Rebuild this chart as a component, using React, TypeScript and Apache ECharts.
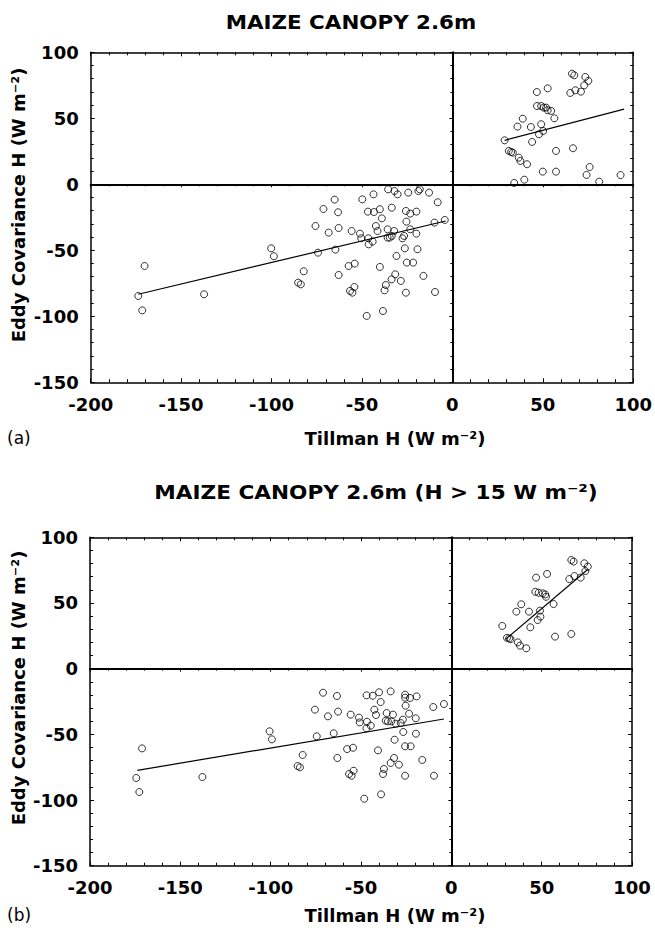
import React, { useEffect, useRef } from "react";
import * as echarts from "echarts";

// Panel (a): all data
const aNeg: [number, number][] = [
  [-173.7, -84.6], [-171.5, -95.5], [-170.2, -61.9], [-137.3, -83.3], [-100.2, -48.5],
  [-98.7, -54.5], [-85.3, -74.5], [-83.8, -75.8], [-82.2, -65.9], [-75.7, -31.6],
  [-74.3, -51.8], [-71.3, -18.7], [-68.4, -36.6], [-65.1, -11.6], [-64.7, -49.5],
  [-63.2, -21.2], [-62.9, -33.1], [-62.9, -68.7], [-57.4, -61.9], [-55.7, -35.4],
  [-56.6, -80.8], [-55.3, -82.1], [-54.2, -77.8], [-54.0, -60.1], [-51.1, -37.4],
  [-50.4, -40.9], [-49.8, -11.4], [-47.4, -99.7], [-46.7, -20.7], [-46.5, -40.9],
  [-46.3, -45.5], [-44.1, -43.4], [-43.6, -7.6], [-43.4, -21.0], [-42.3, -31.6],
  [-41.4, -35.4], [-40.1, -18.9], [-40.1, -62.6], [-39.0, -25.8], [-38.4, -96.0],
  [-37.5, -80.3], [-36.8, -76.3], [-35.8, -34.1], [-35.5, -3.8], [-35.8, -40.4],
  [-34.6, -40.4], [-33.5, -39.1], [-33.5, -17.7], [-32.2, -35.4], [-32.0, -5.1],
  [-31.6, -68.2], [-33.6, -72.0], [-30.9, -54.3], [-30.3, -7.6], [-28.5, -73.2],
  [-27.6, -40.9], [-26.7, -39.1], [-26.3, -48.5], [-25.7, -20.2], [-25.4, -28.3],
  [-25.7, -82.1], [-25.2, -59.3], [-24.4, -6.3], [-23.3, -22.2], [-23.3, -34.1],
  [-21.7, -59.3], [-19.9, -20.7], [-19.9, -37.4], [-19.3, -49.2], [-18.8, -5.1],
  [-18.0, -3.8], [-16.0, -69.4], [-12.9, -6.3], [-9.9, -29.0], [-9.6, -81.6],
  [-8.1, -13.6], [-4.2, -27.0],
];
const aPos: [number, number][] = [
  [28.9, 33.3], [31.2, 25.3], [32.5, 24.5], [33.4, 24.0], [34.2, 1.0],
  [36.0, 43.7], [36.7, 20.2], [37.6, 17.7], [38.9, 49.7], [39.8, 3.5],
  [41.3, 15.2], [43.4, 43.4], [44.1, 32.1], [46.7, 69.9], [46.8, 59.3],
  [47.9, 37.9], [49.1, 59.3], [49.1, 45.5], [50.0, 9.6], [50.2, 40.4],
  [50.5, 58.1], [51.8, 58.1], [52.7, 72.7], [52.7, 56.1], [54.6, 55.6],
  [56.4, 50.0], [57.3, 25.3], [57.3, 9.6], [65.2, 69.2], [66.1, 83.8],
  [67.4, 82.6], [66.7, 27.3], [68.0, 71.2], [71.1, 70.2], [72.9, 75.0],
  [73.5, 81.3], [75.2, 78.3], [74.2, 7.1], [75.9, 13.1], [81.2, 2.0],
  [93.0, 7.0],
];
const aNegFit: [number, number][] = [[-173.7, -83.3], [-3.7, -27.8]];
const aPosFit: [number, number][] = [[28.9, 33.3], [95.0, 57.0]];

// Panel (b): H > 15 W m-2
const bNeg: [number, number][] = [
  [-174.4, -83.2], [-172.7, -93.9], [-171.2, -60.7], [-137.8, -82.5], [-100.6, -47.7],
  [-99.3, -53.8], [-85.1, -74.1], [-83.8, -75.1], [-82.3, -65.7], [-75.5, -31.2],
  [-74.5, -51.5], [-71.0, -18.3], [-68.3, -36.3], [-65.1, -49.2], [-63.3, -20.8],
  [-62.7, -32.7], [-63.1, -68.0], [-57.7, -61.2], [-55.7, -35.0], [-56.6, -80.2],
  [-55.2, -81.5], [-54.1, -77.7], [-54.4, -60.2], [-51.1, -37.3], [-50.7, -40.9],
  [-48.2, -99.0], [-46.9, -20.3], [-47.0, -45.4], [-46.7, -40.4], [-44.6, -43.4],
  [-43.5, -20.6], [-42.6, -31.2], [-41.7, -35.3], [-40.0, -18.0], [-40.6, -62.2],
  [-39.1, -25.4], [-38.9, -95.7], [-37.8, -80.2], [-37.3, -76.4], [-35.8, -33.8],
  [-36.3, -39.6], [-35.1, -40.1], [-33.6, -17.3], [-33.2, -40.1], [-32.3, -35.0],
  [-31.7, -68.0], [-31.4, -54.1], [-33.6, -71.8], [-30.8, -41.9], [-29.0, -73.1],
  [-28.0, -41.4], [-26.8, -38.8], [-26.6, -48.2], [-25.6, -19.8], [-25.3, -28.2],
  [-25.6, -22.1], [-25.6, -81.5], [-25.6, -59.1], [-23.4, -34.3], [-22.9, -22.3],
  [-22.5, -59.1], [-19.7, -37.8], [-19.6, -49.5], [-19.2, -21.1], [-16.1, -69.5],
  [-10.0, -29.2], [-9.6, -81.5], [-4.1, -26.9],
];
const bPos: [number, number][] = [
  [28.2, 32.5], [30.8, 23.5], [32.0, 23.0], [32.8, 22.5], [36.0, 43.4],
  [36.8, 20.0], [38.0, 17.5], [38.7, 49.0], [41.5, 15.5], [43.0, 43.4],
  [43.7, 31.5], [46.5, 58.5], [46.9, 69.3], [47.8, 37.0], [48.3, 57.8],
  [49.1, 44.2], [49.3, 39.6], [50.6, 57.3], [52.0, 56.5], [52.4, 54.7],
  [53.0, 72.1], [56.6, 49.2], [57.4, 24.4], [65.3, 68.2], [66.4, 82.7],
  [66.4, 26.4], [67.7, 81.5], [68.1, 70.5], [71.6, 69.3], [73.6, 80.2],
  [74.2, 74.3], [75.5, 77.7],
];
const bNegFit: [number, number][] = [[-173.8, -77.4], [-4.1, -38.3]];
const bPosFit: [number, number][] = [[30.0, 22.3], [75.5, 75.5]];

const titleA = "MAIZE CANOPY 2.6m";
const titleB = "MAIZE CANOPY 2.6m (H > 15 W m\u207B\u00B2)";
const xName = "Tillman H (W m\u207B\u00B2)";
const yName = "Eddy Covariance H (W m\u207B\u00B2)";

const X_MIN = -200, X_MAX = 100, Y_MIN = -150, Y_MAX = 100, STEP = 50;

const FONT = "DejaVu Sans";
const BLACK = "#000";

function xAxesFor(grid: number, yMain: number) {
  const common = {
    type: "value", gridIndex: grid, min: X_MIN, max: X_MAX, interval: STEP,
    splitLine: { show: false }, minorSplitLine: { show: false },
    axisTick: { show: true, inside: true, length: 4, lineStyle: { color: BLACK, width: 1 } },
    minorTick: { show: true, splitNumber: 5, length: 3, lineStyle: { color: BLACK, width: 1 } },
  };
  return [
    {
      ...common, position: "bottom",
      axisLine: { show: true, onZero: false, lineStyle: { color: BLACK, width: 1.5 } },
      axisLabel: { show: true, margin: 13, fontFamily: FONT, fontWeight: "bold", fontSize: 18, color: BLACK },
    },
    {
      ...common, position: "top",
      axisLine: { show: true, onZero: false, lineStyle: { color: BLACK, width: 1.5 } },
      axisLabel: { show: false },
    },
    {
      ...common, position: "bottom",
      axisLine: { show: true, onZero: true, onZeroAxisIndex: yMain, lineStyle: { color: BLACK, width: 2 } },
      axisTick: { show: true, inside: false, length: 3, lineStyle: { color: BLACK, width: 1 } },
      minorTick: { show: true, splitNumber: 5, length: 2, lineStyle: { color: BLACK, width: 1 } },
      axisLabel: { show: false },
    },
  ];
}

function yAxesFor(grid: number, xMain: number) {
  const common = {
    type: "value", gridIndex: grid, min: Y_MIN, max: Y_MAX, interval: STEP,
    splitLine: { show: false }, minorSplitLine: { show: false },
    axisTick: { show: true, inside: true, length: 4, lineStyle: { color: BLACK, width: 1 } },
    minorTick: { show: true, splitNumber: 5, length: 3, lineStyle: { color: BLACK, width: 1 } },
  };
  return [
    {
      ...common, position: "left",
      axisLine: { show: true, onZero: false, lineStyle: { color: BLACK, width: 1.5 } },
      axisLabel: { show: true, margin: 12, fontFamily: FONT, fontWeight: "bold", fontSize: 18, color: BLACK },
    },
    {
      ...common, position: "right",
      axisLine: { show: true, onZero: false, lineStyle: { color: BLACK, width: 1.5 } },
      axisLabel: { show: false },
    },
    {
      ...common, position: "left",
      axisLine: { show: true, onZero: true, onZeroAxisIndex: xMain, lineStyle: { color: BLACK, width: 2 } },
      axisTick: { show: true, inside: false, length: 3, lineStyle: { color: BLACK, width: 1 } },
      minorTick: { show: true, splitNumber: 5, length: 2, lineStyle: { color: BLACK, width: 1 } },
      axisLabel: { show: false },
    },
  ];
}

function scatter(data: [number, number][], ax: number) {
  return {
    type: "scatter", xAxisIndex: ax, yAxisIndex: ax, data,
    symbol: "circle", symbolSize: 7, silent: true,
    itemStyle: { color: "rgba(0,0,0,0)", borderColor: BLACK, borderWidth: 1 },
  };
}

function fit(data: [number, number][], ax: number) {
  return {
    type: "line", xAxisIndex: ax, yAxisIndex: ax, data,
    symbol: "none", showSymbol: false, silent: true,
    lineStyle: { color: BLACK, width: 1.2 },
  };
}

function txt(text: string, x: number, y: number, size: number, bold: boolean, align = "center", rotation = 0, scaleX = 1) {
  return {
    type: "text", x, y, rotation, scaleX, silent: true,
    style: {
      text, fill: BLACK, font: `${bold ? "bold " : ""}${size}px "${FONT}"`,
      textAlign: align, textVerticalAlign: "middle",
    },
  };
}

export default function App() {
  const ref = useRef<HTMLDivElement>(null);
  useEffect(() => {
    if (!ref.current) return;
    const chart = echarts.init(ref.current, null, { renderer: "svg" });
    chart.setOption({
      animation: false,
      backgroundColor: "#fff",
      grid: [
        { left: 90.7, top: 52.3, width: 544.3, height: 330 },
        { left: 90, top: 537.3, width: 542, height: 328.4 },
      ],
      xAxis: [...xAxesFor(0, 0), ...xAxesFor(1, 3)],
      yAxis: [...yAxesFor(0, 0), ...yAxesFor(1, 3)],
      series: [
        scatter(aNeg, 0), scatter(aPos, 0), fit(aNegFit, 0), fit(aPosFit, 0),
        scatter(bNeg, 3), scatter(bPos, 3), fit(bNegFit, 3), fit(bPosFit, 3),
      ],
      graphic: [
        txt(titleA, 351, 22, 20, true, "center", 0, 1.07),
        txt(titleB, 376, 492, 20, true, "center", 0, 1.08),
        txt(xName, 395, 438, 18, true),
        txt(xName, 395, 915, 18, true),
        txt("(a)", 7, 438, 17, false, "left"),
        txt("(b)", 7, 915, 17, false, "left"),
        txt(yName, 18, 205, 18, true, "center", Math.PI / 2),
        txt(yName, 18, 688, 18, true, "center", Math.PI / 2),
      ],
    });
    return () => chart.dispose();
  }, []);
  return (
    <div
      ref={ref}
      style={{ position: "absolute", left: 0, top: 0, width: 655, height: 931, background: "#fff" }}
    />
  );
}
